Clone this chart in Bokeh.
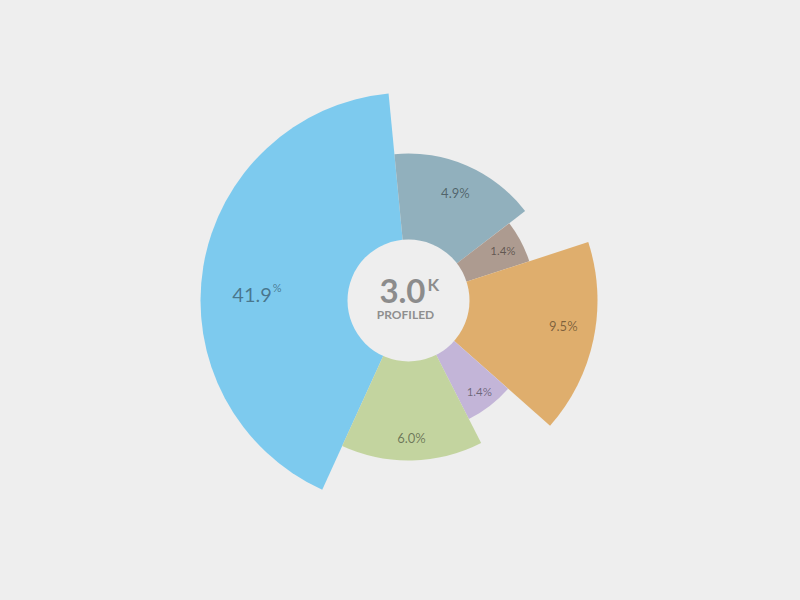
import math
from bokeh.plotting import figure
from bokeh.models import Range1d, ColumnDataSource
from bokeh.core.properties import value
from bokeh.embed import file_html
from bokeh.resources import INLINE

# ---- data ----
segments = ["A", "B", "C", "D", "E", "F"]
share_deg = [150.0, 58.0, 19.5, 59.5, 21.5, 51.5]        # angular extent of each slice
radial_value = [208, 147, 127, 189, 133, 160]             # outer extent of each slice
pct_labels = ["41.9", "4.9", "1.4", "9.5", "1.4", "6.0"]  # percentages shown
total_value = "3.0"
total_unit = "K"
total_caption = "PROFILED"

# ---- styles / layout ----
colors = ["#7dcaee", "#91b0bd", "#ad9b90", "#dfae6d", "#c3b5d8", "#c3d49f"]
START_COMPASS = 204.5          # compass angle (clockwise from north) where first slice starts
HOLE_R = 61
label_angle_frac = [0.45, 0.5, 0.5, 0.46, 0.5, 0.5]
label_radius_frac = [0.72, 0.80, 0.84, 0.83, 0.87, 0.86]
label_size = [20, 13, 11.5, 13, 11.5, 13]
BG = "#eeeeee"

p = figure(width=784, height=584,
           x_range=Range1d(-408, 376), y_range=Range1d(-284, 300),
           output_backend="svg", toolbar_location=None, min_border=0,
           background_fill_color=BG, border_fill_color=BG)
p.axis.visible = False
p.grid.visible = False
p.outline_line_color = None

starts, ends, lx, ly = [], [], [], []
cum = START_COMPASS
for i, span in enumerate(share_deg):
    c0 = cum
    c1 = cum + span
    starts.append(math.radians(90 - c1))
    ends.append(math.radians(90 - c0))
    la = math.radians(c0 + span * label_angle_frac[i])
    lr = radial_value[i] * label_radius_frac[i]
    lx.append(lr * math.sin(la))
    ly.append(lr * math.cos(la))
    cum = c1

src = ColumnDataSource(dict(seg=segments, start=starts, end=ends,
                            r=radial_value, color=colors))
p.annular_wedge(x=0, y=0, inner_radius=0, outer_radius="r",
                start_angle="start", end_angle="end", fill_color="color",
                line_color=None, source=src)

p.circle(x=[0], y=[0], radius=HOLE_R, fill_color=BG, line_color=None)

# big label with superscript percent
p.text(x=[lx[0] + 13], y=[ly[0]], text=[pct_labels[0]], text_align="right",
       text_baseline="middle", text_font=value("Lato"),
       text_font_size="%dpx" % label_size[0], text_color="black", text_alpha=0.42)
p.text(x=[lx[0] + 14], y=[ly[0] + 8], text=["%"], text_align="left",
       text_baseline="middle", text_font=value("Lato"),
       text_font_size="11px", text_color="black", text_alpha=0.42)

for i in range(1, len(segments)):
    p.text(x=[lx[i]], y=[ly[i]], text=[pct_labels[i] + "%"],
           text_align="center", text_baseline="middle", text_font=value("Lato"),
           text_font_size="%gpx" % label_size[i], text_color="black", text_alpha=0.45)

# center text
p.text(x=[17], y=[10], text=[total_value], text_align="right", text_baseline="middle",
       text_font=value("Lato"), text_font_style="bold", text_font_size="33px",
       text_color="#8c8c8c")
p.text(x=[19], y=[16.5], text=[total_unit], text_align="left", text_baseline="middle",
       text_font=value("Lato"), text_font_style="bold", text_font_size="17px",
       text_color="#8c8c8c")
p.text(x=[-3], y=[-13.5], text=[total_caption], text_align="center", text_baseline="middle",
       text_font=value("Lato"), text_font_style="bold", text_font_size="12px",
       text_color="#8f8f8f")

html = file_html(p, INLINE)
html = html.replace("<head>", "<head><style>body{background:#eeeeee;}</style>", 1)
open("out.html", "w").write(html)
